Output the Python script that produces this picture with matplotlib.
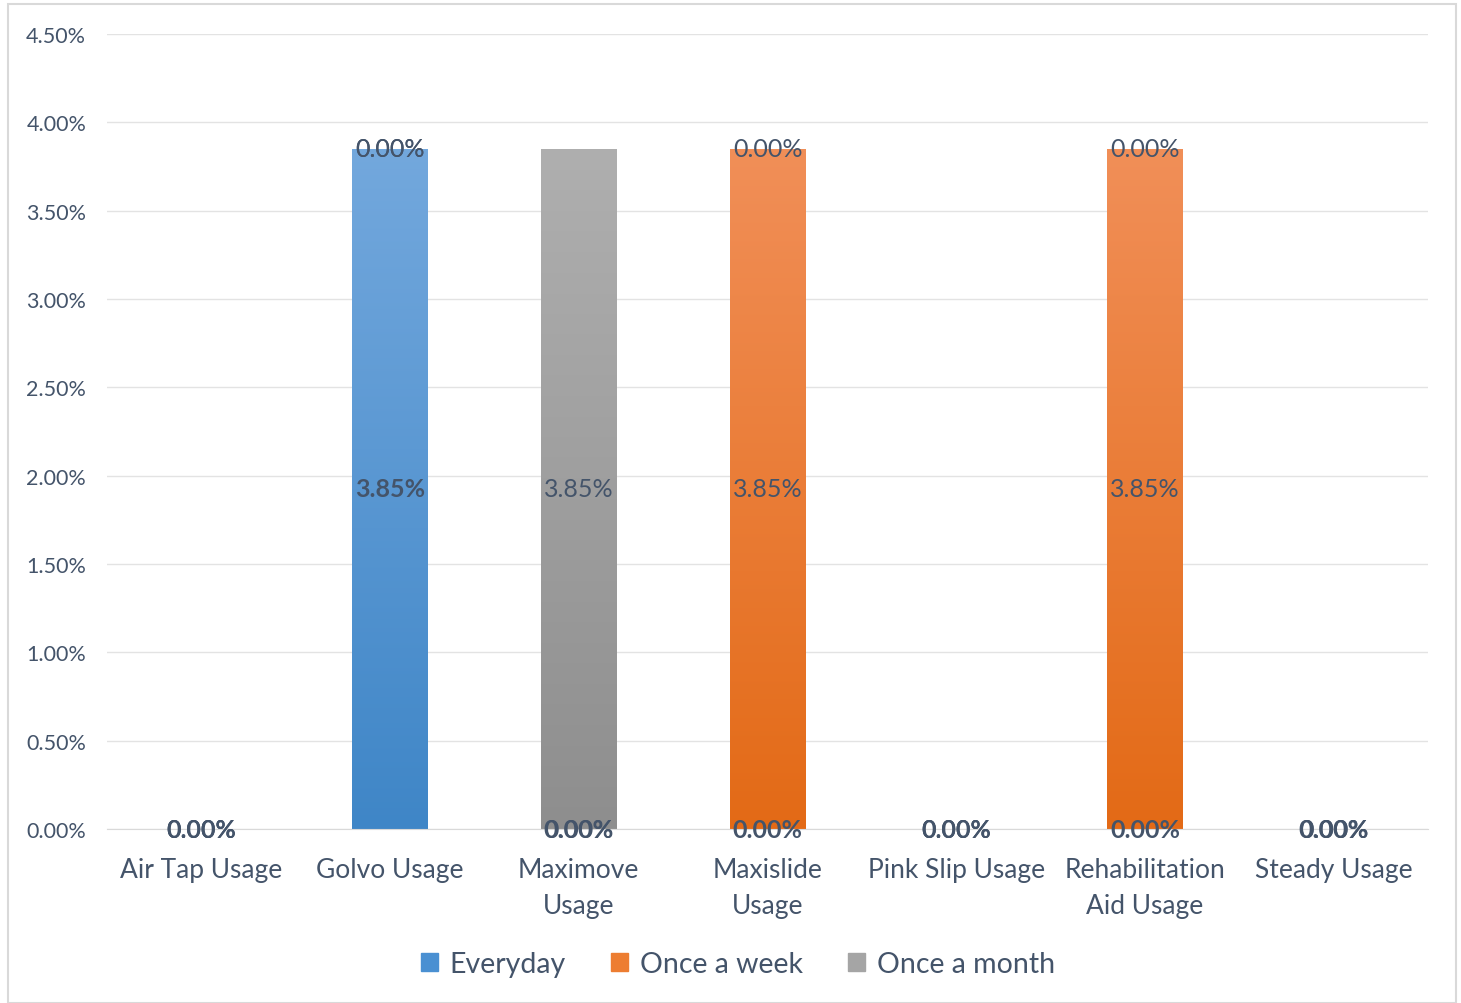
import matplotlib
matplotlib.use('Agg')
import matplotlib.pyplot as plt
import numpy as np
from matplotlib.colors import LinearSegmentedColormap
from matplotlib.patches import Rectangle

plt.rcParams['font.family'] = ['Lato', 'DejaVu Sans']

categories = ['Air Tap Usage', 'Golvo Usage', 'Maximove\nUsage', 'Maxislide\nUsage',
              'Pink Slip Usage', 'Rehabilitation\nAid Usage', 'Steady Usage']
series_names = ['Everyday', 'Once a week', 'Once a month']
everyday = [0, 3.85, 0, 0, 0, 0, 0]
once_week = [0, 0, 0, 3.85, 0, 3.85, 0]
once_month = [0, 0, 3.85, 0, 0, 0, 0]
y_ticks = [0, 0.5, 1.0, 1.5, 2.0, 2.5, 3.0, 3.5, 4.0, 4.5]

# top / bottom colours of the gradient, plus the flat legend colour
colors = {
    'Everyday': ('#73A8DD', '#3F86C7', '#4A90D2'),
    'Once a week': ('#F18F58', '#E36A16', '#ED7D31'),
    'Once a month': ('#AFAFAF', '#8E8E8E', '#A5A5A5'),
}
text_col = '#44546A'

fig = plt.figure(figsize=(14.61, 10.04), dpi=100)
ax = fig.add_axes([107 / 1461, 1 - 830 / 1004, (1428 - 107) / 1461, 795 / 1004])

# outer chart border
fig.patches.append(Rectangle((8 / 1461, 0), (1456 - 8) / 1461, 1 - 5 / 1004,
                             transform=fig.transFigure, fill=False,
                             edgecolor='#D9D9D9', lw=1.5))

x = np.arange(len(categories))
width = 0.4
bottom = np.zeros(len(categories))
grad = np.linspace(0, 1, 256).reshape(-1, 1)

for name, vals in zip(series_names, [everyday, once_week, once_month]):
    top_c, bot_c, flat_c = colors[name]
    cmap = LinearSegmentedColormap.from_list(name, [bot_c, top_c])
    bars = ax.bar(x, vals, width, bottom=bottom, color=flat_c, label=name, edgecolor='none')
    for b, v in zip(bars, vals):
        if v > 0:
            x0, y0 = b.get_x(), b.get_y()
            im = ax.imshow(grad, cmap=cmap, origin='lower', aspect='auto',
                           extent=[x0, x0 + b.get_width(), y0, y0 + b.get_height()],
                           zorder=2)
            im.set_clip_path(b)
    for xi, v, bt in zip(x, vals, bottom):
        ax.text(xi, bt + v / 2, f'{v:.2f}%', ha='center', va='center',
                fontsize=18, color=text_col,
                fontweight='bold' if name == 'Everyday' else 'normal',
                zorder=5, clip_on=False)
    bottom += np.array(vals)

ax.set_xlim(-0.5, len(categories) - 0.5)
ax.set_ylim(0, 4.5)
ax.set_yticks(y_ticks)
ax.set_yticklabels([f'{t:.2f}%' for t in y_ticks])
ax.set_xticks(x)
ax.set_xticklabels(categories, linespacing=1.55)
ax.tick_params(axis='y', length=0, pad=15, labelsize=15.5, labelcolor=text_col)
ax.tick_params(axis='x', length=0, pad=20, labelsize=19, labelcolor=text_col)
ax.grid(axis='y', color='#E3E3E3', lw=1)
ax.set_axisbelow(True)
for s in ['top', 'right', 'left']:
    ax.spines[s].set_visible(False)
ax.spines['bottom'].set_color('#D9D9D9')

handles = [Rectangle((0, 0), 1, 1, color=colors[n][2]) for n in series_names]
fig.legend(handles, series_names, loc='center', bbox_to_anchor=(0.505, 1 - 965 / 1004),
           ncol=3, frameon=False, fontsize=20.5, labelcolor=text_col,
           handlelength=0.6, handleheight=0.6, handletextpad=0.4, columnspacing=1.6)

fig.savefig('out.png', dpi=100)
